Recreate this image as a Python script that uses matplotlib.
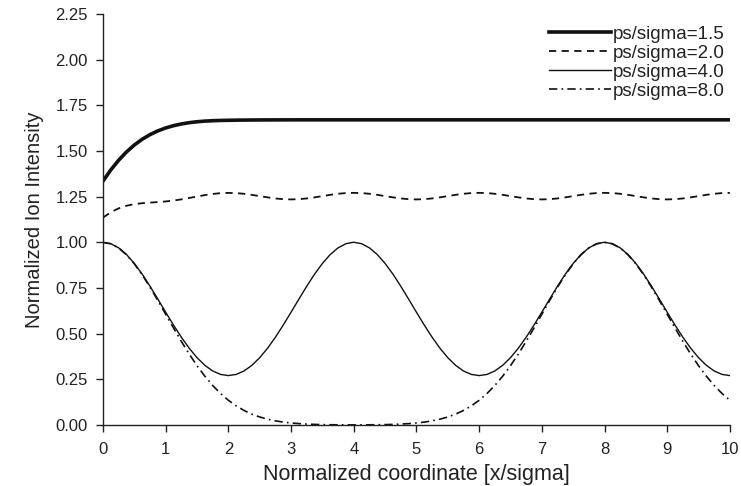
import matplotlib
matplotlib.use("Agg")
import matplotlib.pyplot as plt

x = [i * 0.125 for i in range(81)]

ps15 = [1.3358, 1.3969, 1.4499, 1.4953, 1.5332, 1.5647, 1.5901, 1.6105,
        1.6265, 1.6390, 1.6484, 1.6555, 1.6605, 1.6640, 1.6662, 1.6677,
        1.6685, 1.6693, 1.6697, 1.6701, 1.6704, 1.6706, 1.6707, 1.6708,
        1.6709, 1.671, 1.671, 1.671, 1.671, 1.671, 1.671, 1.671,
        1.671, 1.671, 1.671, 1.671, 1.671, 1.671, 1.671, 1.671,
        1.671, 1.671, 1.671, 1.671, 1.671, 1.671, 1.671, 1.671,
        1.671, 1.671, 1.671, 1.671, 1.671, 1.671, 1.671, 1.671,
        1.671, 1.671, 1.671, 1.671, 1.671, 1.671, 1.671, 1.671,
        1.671, 1.671, 1.671, 1.671, 1.671, 1.671, 1.671, 1.671,
        1.671, 1.671, 1.671, 1.671, 1.671, 1.671, 1.671, 1.671,
        1.671]

ps20 = [1.1356, 1.1652, 1.1864, 1.2006, 1.2094, 1.2146, 1.2177, 1.2206,
        1.2241, 1.2290, 1.2355, 1.2431, 1.2511, 1.2589, 1.2652, 1.2694,
        1.2709, 1.2698, 1.2660, 1.2602, 1.2533, 1.2465, 1.2405, 1.2366,
        1.2352, 1.2366, 1.2406, 1.2465, 1.2533, 1.2603, 1.2661, 1.2700,
        1.2712, 1.2700, 1.2661, 1.2603, 1.2533, 1.2465, 1.2406, 1.2366,
        1.2352, 1.2366, 1.2406, 1.2465, 1.2533, 1.2603, 1.2661, 1.2700,
        1.2712, 1.2700, 1.2661, 1.2603, 1.2533, 1.2465, 1.2406, 1.2366,
        1.2352, 1.2366, 1.2406, 1.2465, 1.2533, 1.2603, 1.2661, 1.2700,
        1.2712, 1.2700, 1.2661, 1.2603, 1.2533, 1.2465, 1.2406, 1.2366,
        1.2352, 1.2366, 1.2406, 1.2465, 1.2533, 1.2603, 1.2661, 1.2700,
        1.2712]

ps40 = [1.0003, 0.9928, 0.9701, 0.9335, 0.8847, 0.8260, 0.7599, 0.6895,
        0.6176, 0.5471, 0.4806, 0.4205, 0.3686, 0.3267, 0.2959, 0.2770,
        0.2706, 0.2770, 0.2959, 0.3267, 0.3686, 0.4205, 0.4806, 0.5471,
        0.6176, 0.6895, 0.7599, 0.8260, 0.8847, 0.9335, 0.9701, 0.9928,
        1.0007, 0.9928, 0.9701, 0.9335, 0.8847, 0.8260, 0.7599, 0.6895,
        0.6176, 0.5471, 0.4806, 0.4205, 0.3686, 0.3267, 0.2959, 0.2770,
        0.2706, 0.2770, 0.2959, 0.3267, 0.3686, 0.4205, 0.4806, 0.5471,
        0.6176, 0.6895, 0.7599, 0.8260, 0.8847, 0.9335, 0.9701, 0.9928,
        1.0007, 0.9928, 0.9701, 0.9335, 0.8847, 0.8260, 0.7599, 0.6895,
        0.6176, 0.5471, 0.4806, 0.4205, 0.3686, 0.3267, 0.2959, 0.2770,
        0.2706]

ps80 = [1.0000, 0.9922, 0.9692, 0.9321, 0.8825, 0.8226, 0.7548, 0.6819,
        0.6065, 0.5311, 0.4578, 0.3886, 0.3247, 0.2671, 0.2163, 0.1724,
        0.1353, 0.1046, 0.0796, 0.0596, 0.0439, 0.0319, 0.0228, 0.0160,
        0.0111, 0.0076, 0.0051, 0.0034, 0.0022, 0.0014, 0.0011, 0.0008,
        0.0007, 0.0008, 0.0011, 0.0014, 0.0022, 0.0034, 0.0051, 0.0076,
        0.0111, 0.0160, 0.0228, 0.0319, 0.0439, 0.0596, 0.0796, 0.1046,
        0.1353, 0.1724, 0.2163, 0.2671, 0.3247, 0.3886, 0.4578, 0.5311,
        0.6065, 0.6819, 0.7548, 0.8226, 0.8825, 0.9321, 0.9692, 0.9922,
        1.0000, 0.9922, 0.9692, 0.9321, 0.8825, 0.8226, 0.7548, 0.6819,
        0.6065, 0.5311, 0.4578, 0.3886, 0.3247, 0.2671, 0.2163, 0.1724,
        0.1353]

labels = ["ps/sigma=1.5", "ps/sigma=2.0", "ps/sigma=4.0", "ps/sigma=8.0"]
xticks = list(range(0, 11))
yticks = [0.0, 0.25, 0.5, 0.75, 1.0, 1.25, 1.5, 1.75, 2.0, 2.25]

plt.rcParams['font.family'] = ['Liberation Sans', 'DejaVu Sans']
txt = '#222222'

fig = plt.figure(figsize=(7.41, 4.86), dpi=100)
ax = fig.add_axes([0.139, 0.1255, 0.846, 0.8455])

ax.plot(x, ps15, color='#111111', lw=2.6, label=labels[0])
ax.plot(x, ps20, color='#111111', lw=1.3, ls=(0, (4, 3)), label=labels[1])
ax.plot(x, ps40, color='#111111', lw=1.0, label=labels[2])
ax.plot(x, ps80, color='#111111', lw=1.2, ls=(0, (5, 2.5, 1, 2.5)), label=labels[3])

ax.set_xlim(0, 10)
ax.set_ylim(0, 2.25)
ax.set_xticks(xticks)
ax.set_xticklabels([str(v) for v in xticks])
ax.set_yticks(yticks)
ax.set_yticklabels(["%.2f" % v for v in yticks])
for s in ['top', 'right']:
    ax.spines[s].set_visible(False)
for s in ['left', 'bottom']:
    ax.spines[s].set_linewidth(1.0)
    ax.spines[s].set_color('#222222')
ax.tick_params(direction='out', length=5, width=1.0, colors='#222222',
               labelsize=12, labelcolor=txt)
ax.tick_params(axis='y', pad=6)
ax.tick_params(axis='x', pad=7)

ax.set_xlabel("Normalized coordinate [x/sigma]", fontsize=15.5, color=txt, labelpad=5)
ax.set_ylabel("Normalized Ion Intensity", fontsize=14.5, color=txt, labelpad=8)

leg = ax.legend(loc='upper right', bbox_to_anchor=(1.004, 0.99), frameon=False,
                fontsize=13.5, handlelength=3.3, handletextpad=0.1,
                labelspacing=0.1, borderaxespad=0.0)
for t in leg.get_texts():
    t.set_color(txt)

fig.savefig("out.png", dpi=100)
